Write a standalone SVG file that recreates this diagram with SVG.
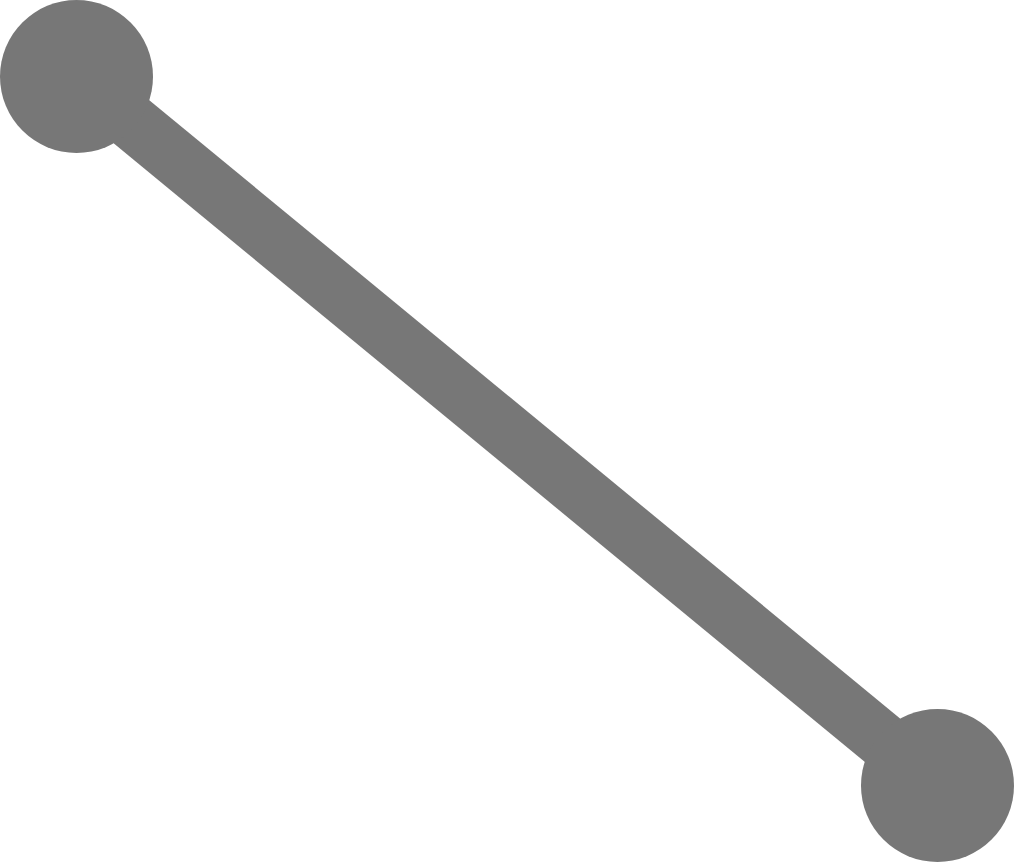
<svg xmlns="http://www.w3.org/2000/svg" width="1014" height="862" viewBox="0 0 1014 862">
<style>.n{fill:#777777}.c{stroke:#777777;stroke-width:56;fill:none}</style>
<rect width="1014" height="862" fill="#ffffff"/>
<g id="connectors"><line class="c" x1="76.5" y1="76.5" x2="937.5" y2="785.5"/></g>
<g id="node-a"><circle class="n" cx="76.5" cy="76.5" r="76.5"/></g>
<g id="node-b"><circle class="n" cx="937.5" cy="785.5" r="76.5"/></g>
</svg>
